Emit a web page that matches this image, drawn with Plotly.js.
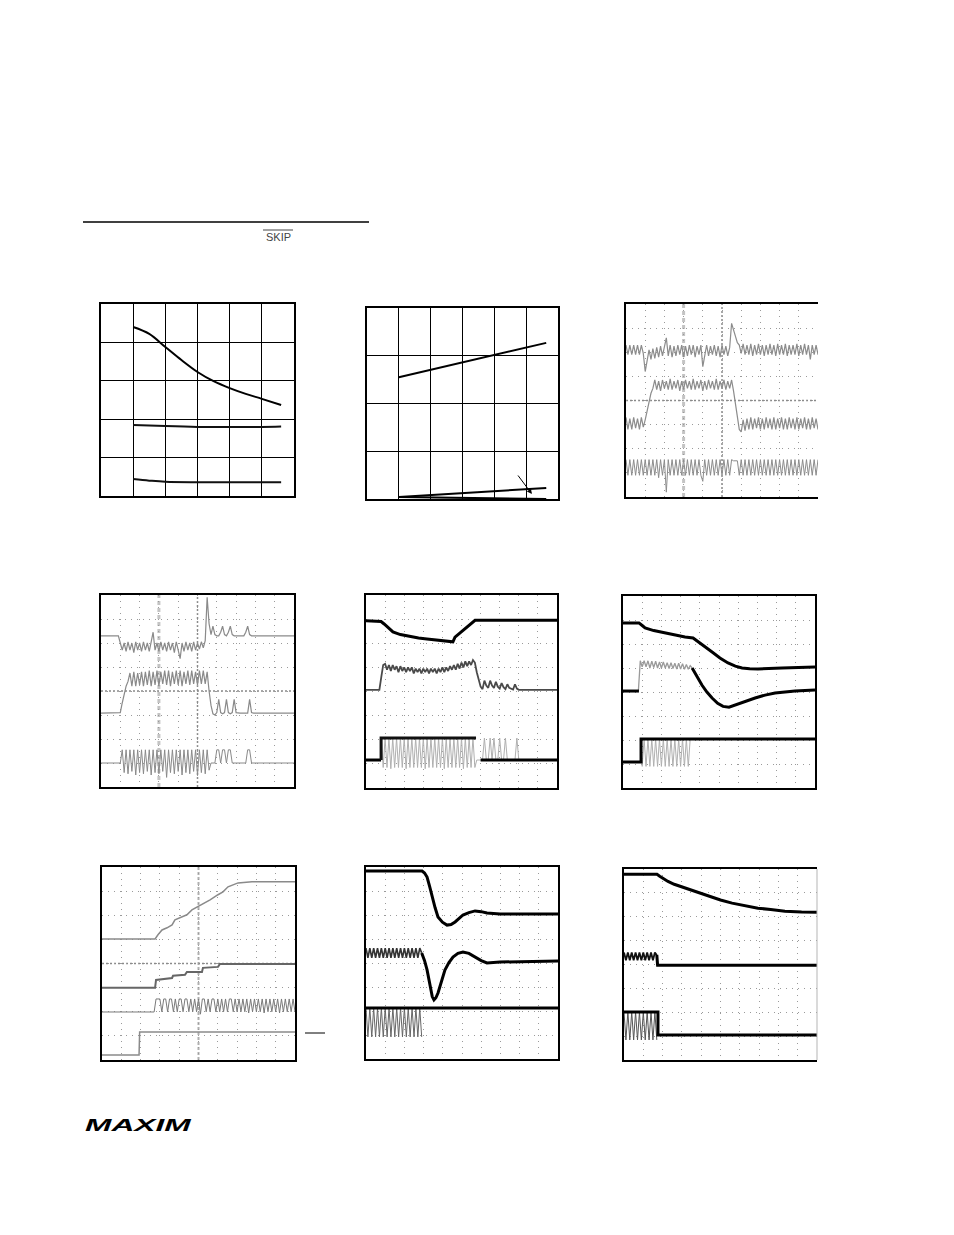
<!DOCTYPE html>
<html><head><meta charset="utf-8">
<script src="https://cdn.plot.ly/plotly-3.0.1.min.js"></script>
<style>html,body{margin:0;padding:0;background:#fff}#chart{width:954px;height:1235px;position:absolute;left:0;top:0}
#logo{position:absolute;left:85px;top:1118px;font:italic 900 16px 'Liberation Sans',Arial,sans-serif;line-height:16px;transform:scaleX(1.98);transform-origin:left top;color:#000}</style>
</head><body><div id="chart"></div><div id="logo">MAXIM</div><script>
// shared scope time base (divisions)
const scopeT=[0,0.1,0.2,0.3,0.4,0.5,0.6,0.7,0.8,0.9,1,1.1,1.2,1.3,1.4,1.5,1.6,1.7,1.8,1.9,2,2.1,2.2,2.3,2.4,2.5,2.6,2.7,2.8,2.9,3,3.1,3.2,3.3,3.4,3.5,3.6,3.7,3.8,3.9,4,4.1,4.2,4.3,4.4,4.5,4.6,4.7,4.8,4.9,5,5.1,5.2,5.3,5.4,5.5,5.6,5.7,5.8,5.9,6,6.1,6.2,6.3,6.4,6.5,6.6,6.7,6.8,6.9,7,7.1,7.2,7.3,7.4,7.5,7.6,7.7,7.8,7.9,8,8.1,8.2,8.3,8.4,8.5,8.6,8.7,8.8,8.9,9,9.1,9.2,9.3,9.4,9.5,9.6,9.7,9.8,9.9,10];

// Panel 1
const p1TopX=[1.0,1.5,2.0,2.5,3.0,3.5,4.0,4.5,5.0,5.6];
const p1Top=[4.40,4.22,3.88,3.54,3.23,2.99,2.81,2.66,2.53,2.37];
const p1MidX=[1.0,2.0,3.0,4.0,5.0,5.6];
const p1Mid=[1.85,1.82,1.80,1.80,1.80,1.81];
const p1BotX=[1.0,1.5,2.0,3.0,4.0,5.0,5.6];
const p1Bot=[0.44,0.40,0.37,0.36,0.36,0.36,0.36];

// Panel 2
const p2X=[1.0,5.63];
const p2Upper=[2.55,3.27];
const p2Lower1=[0.04,0.23];
const p2Lower2=[0.04,0.0];

// Panel 3
const p3A=[6.3,5.9,6.3,5.9,6.3,5.9,6.3,5.9,6.3,5.95,
5.2,
5.7,6.1,5.7,6.15,5.75,6.2,5.8,6.25,5.85,6.3,
6.6,
5.85,6.3,5.8,6.25,5.85,6.3,5.9,6.3,5.8,6.25,5.85,6.3,5.9,6.3,5.8,6.25,5.9,6.3,
5.4,
5.9,6.3,5.85,6.25,5.9,6.3,5.85,6.25,5.8,6.3,5.9,6.25,5.85,6.2,
7.2,6.9,6.6,6.4,6.3,
5.95,6.35,5.9,6.3,5.9,6.35,5.85,6.3,5.9,6.35,5.9,6.3,5.85,6.3,5.9,6.35,5.9,6.3,5.85,6.35,5.9,6.3,5.9,6.35,5.85,6.3,5.9,6.3,5.9,6.35,5.85,6.3,5.9,6.35,5.9,6.3,
5.7,
6.3,5.9,6.3,5.9];
const p3B=[3.3,2.8,3.25,2.8,3.3,2.85,3.25,2.8,3.3,2.9,
3.2,3.6,4.0,4.3,4.5,
4.85,4.45,4.8,4.4,4.85,4.5,4.8,4.45,4.9,4.45,4.8,4.5,4.85,4.4,4.8,4.45,4.85,4.5,4.8,4.45,4.9,4.45,4.8,4.5,4.85,4.4,4.8,4.45,4.85,4.5,4.8,4.45,4.9,4.45,4.8,4.5,4.85,4.45,4.8,4.5,4.85,
4.4,3.8,3.2,2.8,2.7,
3.2,2.75,3.25,2.8,3.3,2.8,3.25,2.85,3.3,2.8,3.25,2.8,3.3,2.85,3.25,2.8,3.3,2.8,3.25,2.85,3.3,2.8,3.25,2.8,3.3,2.85,3.25,2.8,3.3,2.8,3.25,2.85,3.3,2.8,3.25,2.8,3.3,2.85,3.25,2.8];
const p3C=[1.55,0.9,1.55,0.9,1.55,0.9,1.55,0.9,1.55,0.9,1.55,0.9,1.55,0.9,1.55,0.9,1.55,
0.8,
1.55,0.9,1.55,
0.2,
1.55,0.9,1.55,0.9,1.55,0.9,1.55,0.9,1.55,0.9,1.55,0.9,1.55,0.9,1.55,0.9,1.55,0.9,
0.65,
1.55,0.9,1.55,0.9,1.55,0.9,1.55,0.9,1.55,0.9,1.55,0.9,1.55,0.9,1.55,
1.5,1.5,1.5,
0.9,1.55,0.9,1.55,0.9,1.55,0.9,1.55,0.9,1.55,0.9,1.55,0.9,1.55,0.9,1.55,0.9,1.55,0.9,1.55,0.9,1.55,0.9,1.55,0.9,1.55,0.9,1.55,0.9,1.55,0.9,1.55,0.9,1.55,0.9,1.55,0.9,1.55,0.9,1.55,0.9,1.55];

// Panel 4
const p4A=[6.3,6.3,6.3,6.3,6.3,6.3,6.3,6.3,6.3,6.3,
6.0,5.7,
6.0,5.65,6.05,5.7,6.0,5.6,6.05,5.7,6.0,5.65,6.05,5.7,6.0,5.65,6.05,6.45,5.7,6.0,5.65,6.05,5.7,6.0,5.65,6.05,5.7,6.0,5.6,6.05,5.7,5.35,6.0,5.65,6.05,5.7,6.0,5.65,6.05,5.7,6.0,5.75,6.05,5.8,6.1,
7.9,
6.8,6.35,6.7,6.35,6.3,6.3,6.45,6.7,6.35,6.3,6.45,6.7,6.35,
6.3,6.3,6.3,6.3,6.3,6.3,
6.45,6.7,6.35,
6.3,6.3,6.3,6.3,6.3,6.3,6.3,6.3,6.3,6.3,6.3,6.3,6.3,6.3,6.3,6.3,6.3,6.3,6.3,6.3,6.3,6.3,6.3];
const p4B=[3.08,3.08,3.08,3.08,3.08,3.08,3.08,3.08,3.08,3.08,
3.1,3.5,3.9,4.2,4.4,
4.75,4.2,4.8,4.2,4.75,4.25,4.8,4.2,4.8,4.25,4.85,4.2,4.8,4.25,4.85,4.2,4.8,4.3,4.85,4.25,4.85,4.2,4.8,4.3,4.85,4.25,4.85,4.2,4.8,4.3,4.85,4.25,4.85,4.3,4.8,4.25,4.85,4.3,4.85,4.3,4.8,
4.0,3.4,3.05,3.0,3.1,
3.65,3.1,3.05,3.1,3.65,3.1,3.05,3.1,3.65,3.1,3.08,3.08,3.08,3.08,3.08,3.08,3.65,3.1,
3.08,3.08,3.08,3.08,3.08,3.08,3.08,3.08,3.08,3.08,3.08,3.08,3.08,3.08,3.08,3.08,3.08,3.08,3.08,3.08,3.08,3.08];
const p4C=[1.0,1.0,1.0,1.0,1.0,1.0,1.0,1.0,1.0,1.0,1.0,
1.55,0.6,1.55,0.55,1.55,0.65,1.55,0.5,1.55,0.6,1.55,0.55,1.55,0.65,1.55,0.5,1.55,0.6,1.55,0.55,1.55,0.65,1.55,0.4,1.55,0.6,1.55,0.55,1.55,0.65,1.55,0.5,1.55,0.6,1.55,0.55,1.55,0.65,1.55,0.5,1.55,0.6,1.55,0.55,1.55,0.7,
1.0,1.0,1.0,
1.55,1.55,1.0,1.55,1.55,1.0,1.55,1.55,
1.0,1.0,1.0,1.0,1.0,1.0,1.0,1.0,
1.55,1.55,
1.0,1.0,1.0,1.0,1.0,1.0,1.0,1.0,1.0,1.0,1.0,1.0,1.0,1.0,1.0,1.0,1.0,1.0,1.0,1.0,1.0,1.0,1.0];

// Panel 5
const p5AX=[0,0.79,0.95,1.1,1.25,1.41,1.8,2.3,2.75,3.19,3.9,4.55,4.66,5.2,5.71,10];
const p5A=[6.93,6.9,6.8,6.7,6.58,6.47,6.36,6.27,6.22,6.18,6.12,6.06,6.25,6.6,6.95,6.95];
const p5B=[4.07,4.07,4.07,4.07,4.07,4.07,4.07,4.07,
4.6,5.1,
5.15,4.9,5.1,4.85,5.1,4.9,5.05,4.8,5.05,4.85,5.0,4.8,5.0,4.85,5.0,4.75,4.95,4.8,4.95,4.75,4.95,4.8,4.95,4.75,4.95,4.8,4.95,4.75,4.95,4.8,5.0,4.8,5.0,4.85,5.05,4.9,5.1,4.9,5.15,4.95,5.2,5.0,5.25,5.05,
5.25,5.1,5.3,5.2,4.8,4.45,4.2,4.1,
4.45,4.25,4.15,4.45,4.25,4.15,4.4,4.2,4.12,4.35,4.18,4.1,4.3,4.15,4.1,4.08,4.3,4.12,
4.07,4.07,4.07,4.07,4.07,4.07,4.07,4.07,4.07,4.07,4.07,4.07,4.07,4.07,4.07,4.07,4.07,4.07,4.07,4.07,4.07];
const p5CPulse=[2.07,0.85,2.07,0.85,2.07,0.8,2.07,0.85,2.07,0.85,2.07,0.85,2.07,0.8,2.07,0.85,2.07,0.85,2.07,0.85,2.07,0.85,2.07,0.8,2.07,0.85,2.07,0.85,2.07,0.85,2.07,0.85,2.07,0.8,2.07,0.85,2.07,0.85,2.07,0.85,2.07,0.85,2.07,0.8,2.07,0.85,2.07,0.85,2.07,0.85,
1.16,1.16,1.16,1.16,
2.07,1.16,1.16,2.07,1.16,2.07,1.16,1.16,2.07,1.16,1.16,2.07,1.16,1.16,1.16,1.16,1.16,2.07,1.16];
const p5CBaseX=[0,0.79];
const p5CBase=[1.16,1.16];
const p5CTopX=[0.79,0.79,5.76];
const p5CTop=[1.16,2.07,2.07];
const p5CEndX=[6.0,10];
const p5CEnd=[1.16,1.16];

// Panel 6
const p6AX=[0,0.83,1.0,1.15,1.6,2.19,2.7,3.23,3.65,4.1,4.64,5.05,5.47,5.85,6.2,6.6,7.03,8.28,10];
const p6A=[6.88,6.88,6.77,6.67,6.56,6.46,6.37,6.29,6.25,6.0,5.67,5.42,5.21,5.08,5.0,4.97,4.96,5.0,5.04];
const p6BBaseX=[0,0.83];
const p6BBase=[4.04,4.04];
const p6BRipple=[4.04,5.3,5.05,5.3,5.05,5.3,5.0,5.28,5.02,5.28,5.0,5.25,5.0,5.25,5.0,5.22,4.98,5.22,4.98,5.2,4.96,5.2,4.96,5.18,4.95,5.15,4.95,5.1,5.0];
const p6BCurveX=[3.6,3.85,4.11,4.37,4.64,4.93,5.21,5.52,5.83,6.35,6.88,7.4,7.92,8.96,10];
const p6BCurve=[5.0,4.65,4.29,4.0,3.75,3.53,3.4,3.37,3.46,3.6,3.75,3.87,3.96,4.04,4.08];
const p6CX=[0,0.94,0.94,10];
const p6C=[1.08,1.08,2.04,2.04];
const p6CPulse=[2.04,0.9,2.04,0.9,2.04,0.9,2.04,0.9,2.04,0.9,2.04,0.9,2.04,0.9,2.04,0.9,2.04,0.9,2.04,0.9,2.04,0.9,2.04,0.9,2.04,0.9,2.04];

// Panel 7
const p7AX=[0,2.75,2.9,3.11,3.37,3.63,3.78,4.15,4.4,4.66,4.97,5.34,5.6,6.01,6.27,6.53,7.05,7.77,10];
const p7A=[5.02,5.02,5.19,5.39,5.48,5.6,5.81,5.93,6.02,6.22,6.35,6.51,6.64,6.85,6.97,7.18,7.34,7.39,7.39];
const p7BX=[0,2.75,2.8,3.63,3.68,4.3,4.4,5.18,5.23,6.01,6.11,10];
const p7B=[2.99,2.99,3.32,3.4,3.49,3.53,3.65,3.65,3.82,3.86,3.98,3.98];
const p7C=[1.99,1.99,1.99,1.99,1.99,1.99,1.99,1.99,1.99,1.99,1.99,1.99,1.99,1.99,1.99,1.99,1.99,1.99,1.99,1.99,1.99,1.99,1.99,1.99,1.99,1.99,1.99,1.99,
2.53,2.53,2.53,2.0,2.53,2.53,2.0,2.53,2.53,2.0,2.53,2.0,2.53,2.53,2.0,2.53,2.53,2.0,2.53,2.0,2.53,2.0,2.53,1.9,2.53,2.53,2.0,2.53,2.0,2.53,2.53,2.0,2.53,2.0,2.53,2.0,2.53,2.0,2.53,2.53,2.0,
2.53,2.0,2.53,2.0,2.53,2.0,2.53,1.95,2.53,2.0,2.53,2.0,2.53,2.0,2.53,1.95,2.53,2.0,2.53,2.0,2.53,2.0,2.53,1.95,2.53,2.0,2.53,2.0,2.53,2.0,2.53,2.0];
const p7DX=[0,1.92,1.95,10];
const p7D=[0.21,0.21,1.16,1.16];

// Panel 8
const p8AX=[0,2.92,3.05,3.18,3.31,3.44,3.6,3.75,3.98,4.22,4.43,4.64,4.85,5.05,5.36,5.68,6.0,6.3,6.98,10];
const p8A=[7.83,7.83,7.75,7.58,7.2,6.75,6.3,5.92,5.7,5.58,5.6,5.71,5.85,6.0,6.1,6.17,6.14,6.08,6.04,6.04];
const p8BRipple=[4.62,4.22,4.62,4.22,4.62,4.22,4.62,4.22,4.62,4.22,4.62,4.22,4.62,4.22,4.62,4.22,4.62,4.22,4.62,4.22,4.62,4.22,4.62,4.22,4.62,4.22,4.62,4.22,4.62,4.42];
const p8BCurveX=[2.9,3.05,3.18,3.33,3.45,3.54,3.64,3.75,3.93,4.11,4.32,4.53,4.79,5.05,5.36,5.68,6.0,6.3,6.98,10];
const p8BCurve=[4.42,4.1,3.71,3.0,2.6,2.46,2.55,2.75,3.25,3.71,4.02,4.25,4.4,4.46,4.4,4.25,4.1,4.0,4.04,4.08];
const p8CTopX=[0,10];
const p8CTop=[2.13,2.13];
const p8CPulse=[2.13,0.92,2.13,0.92,2.13,0.92,2.13,0.92,2.13,0.92,2.13,0.92,2.13,0.92,2.13,0.92,2.13,0.92,2.13,0.92,2.13,0.92,2.13,0.92,2.13,0.92,2.13,0.92,2.13,0.92];

// Panel 9
const p9AX=[0,1.71,1.85,2.0,2.28,2.6,3.0,3.6,4.35,5.0,5.6,6.3,6.94,7.6,8.34,9.2,10];
const p9A=[7.78,7.78,7.7,7.62,7.48,7.36,7.25,7.06,6.86,6.7,6.57,6.46,6.36,6.3,6.23,6.2,6.19];
const p9BRipple=[4.5,4.18,4.5,4.18,4.5,4.18,4.5,4.18,4.5,4.18,4.5,4.18,4.5,4.18,4.5,4.18,4.5,4.4];
const p9BLineX=[1.7,1.74,10];
const p9BLine=[4.4,3.97,3.97];
const p9CPulse=[2.01,0.84,2.01,0.84,2.01,0.84,2.01,0.84,2.01,0.84,2.01,0.84,2.01,0.84,2.01,0.84,2.01,0.84];
const p9CX=[0,1.76,1.76,10];
const p9C=[2.01,2.01,1.05,1.05];

// ---------- layout geometry ----------
const W=954,H=1235;
const panels=[
 {x0:101,x1:294,y0:304,y1:496,nx:6,ny:5,kind:'grid'},
 {x0:367,x1:558,y0:308,y1:499,nx:6,ny:4,kind:'grid'},
 {x0:626,x1:818,y0:304,y1:497,nx:10,ny:8,kind:'scope',noRight:true},
 {x0:101,x1:294,y0:595,y1:787,nx:10,ny:8,kind:'scope'},
 {x0:366,x1:557,y0:595,y1:788,nx:10,ny:8,kind:'scope'},
 {x0:623,x1:815,y0:596,y1:788,nx:10,ny:8,kind:'scope'},
 {x0:102,x1:295,y0:867,y1:1060,nx:10,ny:8,kind:'scope'},
 {x0:366,x1:558,y0:867,y1:1059,nx:10,ny:8,kind:'scope'},
 {x0:624,x1:817,y0:869,y1:1060,nx:10,ny:8,kind:'scope',noRight:true}
];
const layout={width:W,height:H,margin:{l:0,r:0,t:0,b:0,pad:0},paper_bgcolor:'#fff',plot_bgcolor:'rgba(0,0,0,0)',showlegend:false,hovermode:false,shapes:[],annotations:[]};
panels.forEach((p,k)=>{
  const s=k===0?'':String(k+1);
  const grid=p.kind==='grid';
  const common={showticklabels:false,ticks:'',zeroline:false,showgrid:true,
    gridcolor:grid?'#000':'#9a9a9a',gridwidth:grid?1.3:1,griddash:grid?'solid':'1px,5px',
    showline:true,linecolor:'#000',linewidth:2,fixedrange:true,dtick:1,tick0:0};
  layout['xaxis'+s]=Object.assign({},common,{domain:[p.x0/W,p.x1/W],range:[0,p.nx],anchor:'y'+s,mirror:true});
  layout['yaxis'+s]=Object.assign({},common,{domain:[1-p.y1/H,1-p.y0/H],range:[0,p.ny],anchor:'x'+s,mirror:!p.noRight});
});
function vline(ax,x,color,width,dash){layout.shapes.push({type:'line',layer:'below',xref:'x'+ax,yref:'y'+ax+' domain',x0:x,x1:x,y0:0,y1:1,line:{color,width,dash}});}
function hline(ax,y,color,width,dash){layout.shapes.push({type:'line',layer:'below',xref:'x'+ax+' domain',yref:'y'+ax,x0:0,x1:1,y0:y,y1:y,line:{color,width,dash}});}
vline('3',3,'#c4c4c4',3,'4px,3px'); vline('3',5,'#8a8a8a',1.5,'2px,2px'); hline('3',4,'#8a8a8a',1.5,'2px,2px');
vline('4',3,'#c4c4c4',3,'4px,3px'); vline('4',5,'#8a8a8a',1.5,'2px,2px'); hline('4',4,'#8a8a8a',1.5,'2px,2px');
vline('7',5,'#b0b0b0',2,'3px,2px'); hline('7',4,'#8a8a8a',1.5,'2px,2px');
layout.shapes.push({type:'line',layer:'above',xref:'x9 domain',yref:'y9 domain',x0:1,x1:1,y0:0,y1:1,line:{color:'#b5b5b5',width:1}});
layout.shapes.push({type:'line',xref:'paper',yref:'paper',x0:83/W,x1:369/W,y0:1-222/H,y1:1-222/H,line:{color:'#000',width:1.3}});
layout.shapes.push({type:'line',xref:'paper',yref:'paper',x0:263/W,x1:293/W,y0:1-230/H,y1:1-230/H,line:{color:'#444',width:1}});
layout.shapes.push({type:'line',xref:'paper',yref:'paper',x0:305/W,x1:325/W,y0:1-1033/H,y1:1-1033/H,line:{color:'#000',width:1}});
layout.annotations.push({xref:'paper',yref:'paper',x:278/W,y:1-237/H,xanchor:'center',yanchor:'middle',text:'SKIP',showarrow:false,font:{family:'Liberation Sans, Arial, sans-serif',size:11,color:'#444'}});
layout.annotations.push({xref:'x2',yref:'y2',x:5.18,y:0.105,ax:-15,ay:-20,text:'',showarrow:true,arrowhead:2,arrowsize:1,arrowwidth:1,arrowcolor:'#000'});

function tr(ax,x,y,color,width,shape){return {type:'scatter',mode:'lines',x,y,xaxis:'x'+ax,yaxis:'y'+ax,line:{color,width,shape:shape||'linear'},hoverinfo:'skip',connectgaps:false};}
const traces=[
 tr('',p1TopX,p1Top,'#000',2,'spline'), tr('',p1MidX,p1Mid,'#111',2,'spline'), tr('',p1BotX,p1Bot,'#111',2,'spline'),
 tr('2',p2X,p2Upper,'#000',2), tr('2',p2X,p2Lower1,'#000',2), tr('2',p2X,p2Lower2,'#000',2),
 tr('3',scopeT,p3A,'#8c8c8c',1.2), tr('3',scopeT,p3B,'#8c8c8c',1.2), tr('3',scopeT,p3C,'#8c8c8c',1),
 tr('4',scopeT,p4A,'#8a8a8a',1.2), tr('4',scopeT,p4B,'#8a8a8a',1.2), tr('4',scopeT,p4C,'#8a8a8a',1),
 tr('5',scopeT.slice(8,81),p5CPulse,'#b0b0b0',1), tr('5',p5CBaseX,p5CBase,'#000',3), tr('5',p5CTopX,p5CTop,'#111',3), tr('5',p5CEndX,p5CEnd,'#000',3),
 tr('5',scopeT,p5B,'#4a4a4a',1.8), tr('5',p5AX,p5A,'#000',3),
 tr('6',scopeT.slice(9,36),p6CPulse,'#b0b0b0',1), tr('6',p6CX,p6C,'#000',3),
 tr('6',scopeT.slice(8,37),p6BRipple,'#9a9a9a',1.3), tr('6',p6BBaseX,p6BBase,'#000',3), tr('6',p6BCurveX,p6BCurve,'#000',3),
 tr('6',p6AX,p6A,'#000',3),
 tr('7',p7AX,p7A,'#8a8a8a',1.5), tr('7',p7BX,p7B,'#666',2), tr('7',scopeT,p7C,'#7a7a7a',1), tr('7',p7DX,p7D,'#8a8a8a',1.5),
 tr('8',scopeT.slice(0,30),p8CPulse,'#666',1), tr('8',p8CTopX,p8CTop,'#000',3),
 tr('8',scopeT.slice(0,30),p8BRipple,'#333',1.6), tr('8',p8BCurveX,p8BCurve,'#000',3),
 tr('8',p8AX,p8A,'#000',3),
 tr('9',scopeT.slice(0,18),p9CPulse,'#555',1), tr('9',p9CX,p9C,'#000',3),
 tr('9',scopeT.slice(0,18),p9BRipple,'#111',1.8), tr('9',p9BLineX,p9BLine,'#000',3),
 tr('9',p9AX,p9A,'#000',3)
];
Plotly.newPlot('chart',traces,layout,{staticPlot:true,displayModeBar:false});
</script></body></html>
